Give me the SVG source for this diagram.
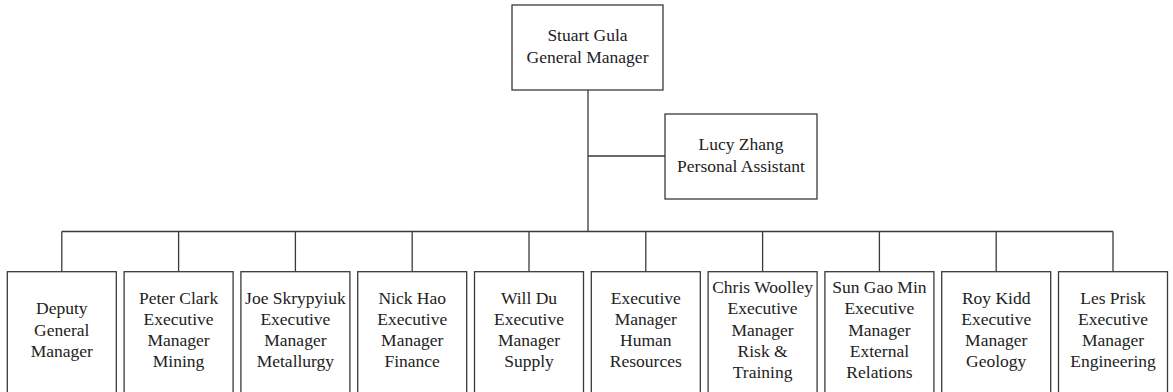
<svg xmlns="http://www.w3.org/2000/svg" width="1173" height="392" viewBox="0 0 1173 392">
  <style>
    .box { fill: #ffffff; stroke: #3a3a3a; stroke-width: 1.3; }
    .wire { fill: none; stroke: #3a3a3a; stroke-width: 1.3; }
    text { font-family: "Liberation Serif", "Times New Roman", serif; font-size: 17.5px; fill: #222222; text-anchor: middle; }
  </style>
  <rect width="1173" height="392" fill="#ffffff"/>

  <!-- connectors -->
  <g id="connectors" class="wire">
    <path d="M588 90 V231.5"/>
    <path d="M588 156 H665"/>
    <path d="M61.8 231.5 H1113"/>
    <path d="M61.8 231.5 V271.7"/>
    <path d="M178.6 231.5 V271.7"/>
    <path d="M295.4 231.5 V271.7"/>
    <path d="M412.2 231.5 V271.7"/>
    <path d="M529 231.5 V271.7"/>
    <path d="M645.8 231.5 V271.7"/>
    <path d="M762.6 231.5 V271.7"/>
    <path d="M879.4 231.5 V271.7"/>
    <path d="M996.2 231.5 V271.7"/>
    <path d="M1113 231.5 V271.7"/>
  </g>

  <!-- top level -->
  <g id="gm">
    <rect class="box" x="512" y="5" width="151" height="85"/>
    <text x="587.5" y="41">Stuart Gula</text>
    <text x="587.5" y="63">General Manager</text>
  </g>

  <g id="pa">
    <rect class="box" x="665" y="114" width="152" height="85"/>
    <text x="741" y="150">Lucy Zhang</text>
    <text x="741" y="172">Personal Assistant</text>
  </g>

  <!-- direct reports -->
  <g id="deputy">
    <rect class="box" x="7.3" y="271.7" width="109" height="130"/>
    <text x="61.8" y="314.2">Deputy</text>
    <text x="61.8" y="335.5">General</text>
    <text x="61.8" y="356.8">Manager</text>
  </g>

  <g id="mining">
    <rect class="box" x="124.1" y="271.7" width="109" height="130"/>
    <text x="178.6" y="303.5">Peter Clark</text>
    <text x="178.6" y="324.8">Executive</text>
    <text x="178.6" y="346.1">Manager</text>
    <text x="178.6" y="367.4">Mining</text>
  </g>

  <g id="metallurgy">
    <rect class="box" x="240.9" y="271.7" width="109" height="130"/>
    <text x="295.4" y="303.5">Joe Skrypyiuk</text>
    <text x="295.4" y="324.8">Executive</text>
    <text x="295.4" y="346.1">Manager</text>
    <text x="295.4" y="367.4">Metallurgy</text>
  </g>

  <g id="finance">
    <rect class="box" x="357.7" y="271.7" width="109" height="130"/>
    <text x="412.2" y="303.5">Nick Hao</text>
    <text x="412.2" y="324.8">Executive</text>
    <text x="412.2" y="346.1">Manager</text>
    <text x="412.2" y="367.4">Finance</text>
  </g>

  <g id="supply">
    <rect class="box" x="474.5" y="271.7" width="109" height="130"/>
    <text x="529" y="303.5">Will Du</text>
    <text x="529" y="324.8">Executive</text>
    <text x="529" y="346.1">Manager</text>
    <text x="529" y="367.4">Supply</text>
  </g>

  <g id="hr">
    <rect class="box" x="591.3" y="271.7" width="109" height="130"/>
    <text x="645.8" y="303.5">Executive</text>
    <text x="645.8" y="324.8">Manager</text>
    <text x="645.8" y="346.1">Human</text>
    <text x="645.8" y="367.4">Resources</text>
  </g>

  <g id="risk">
    <rect class="box" x="708.1" y="271.7" width="109" height="130"/>
    <text x="762.6" y="293">Chris Woolley</text>
    <text x="762.6" y="314.2">Executive</text>
    <text x="762.6" y="335.5">Manager</text>
    <text x="762.6" y="356.8">Risk &amp;</text>
    <text x="762.6" y="378">Training</text>
  </g>

  <g id="external">
    <rect class="box" x="824.9" y="271.7" width="109" height="130"/>
    <text x="879.4" y="293">Sun Gao Min</text>
    <text x="879.4" y="314.2">Executive</text>
    <text x="879.4" y="335.5">Manager</text>
    <text x="879.4" y="356.8">External</text>
    <text x="879.4" y="378">Relations</text>
  </g>

  <g id="geology">
    <rect class="box" x="941.7" y="271.7" width="109" height="130"/>
    <text x="996.2" y="303.5">Roy Kidd</text>
    <text x="996.2" y="324.8">Executive</text>
    <text x="996.2" y="346.1">Manager</text>
    <text x="996.2" y="367.4">Geology</text>
  </g>

  <g id="engineering">
    <rect class="box" x="1058.5" y="271.7" width="109" height="130"/>
    <text x="1113" y="303.5">Les Prisk</text>
    <text x="1113" y="324.8">Executive</text>
    <text x="1113" y="346.1">Manager</text>
    <text x="1113" y="367.4">Engineering</text>
  </g>
</svg>
